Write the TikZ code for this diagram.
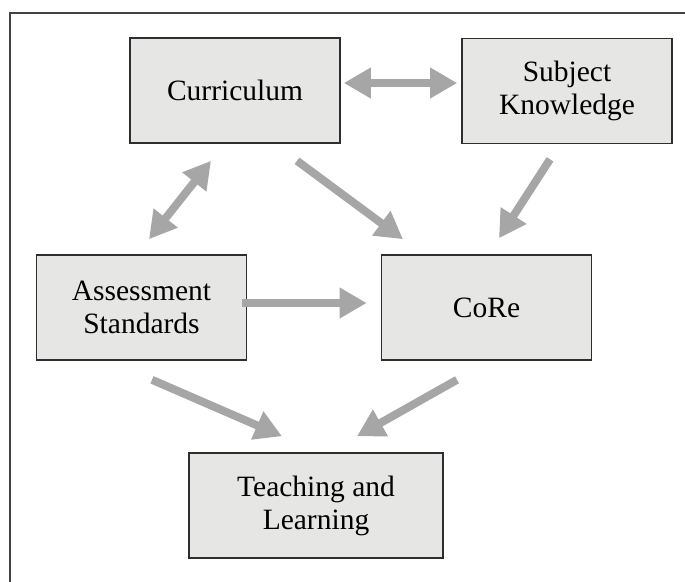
\documentclass[tikz,border=0pt]{standalone}
\usepackage{fontspec}
\setmainfont{Liberation Serif}
\usetikzlibrary{arrows.meta}

\definecolor{boxfill}{HTML}{E6E7E5}
\definecolor{boxline}{HTML}{2E2E2E}
\definecolor{arrowgray}{HTML}{A6A6A6}

\tikzset{
    topic/.style={draw=boxline, line width=1.6pt, fill=boxfill, inner sep=0pt,
        minimum width=210pt, minimum height=105pt, align=center,
        font=\fontsize{29.5}{33}\selectfont},
    flow/.style={draw=arrowgray, line width=8pt,
        -{Triangle[length=27pt,width=29pt]}},
    twoway/.style={flow, {Triangle[length=27pt,width=29pt]}-{Triangle[length=27pt,width=29pt]}}
}

\begin{document}
\begin{tikzpicture}[x=1pt, y=1pt]
    \useasboundingbox (0,0) rectangle (685,-581);
    % Draw frame
    \draw[line width=1.8pt, draw=boxline!90] (10,-13) rectangle (720,-620);

    % Draw boxes
    \node[topic] (curr) at (235,-90.5) {Curriculum};
    \node[topic] (subj) at (567,-91) {Subject\\Knowledge};
    \node[topic] (assess) at (141.5,-307.5) {Assessment\\Standards};
    \node[topic] (core) at (486.5,-307.5) {CoRe};
    \node[topic, minimum width=254pt] (teach) at (316,-505.5) {Teaching and\\Learning};

    % Draw arrows
    \draw[twoway] ([shift={(3,7.5)}]curr.east) -- ([shift={(-4,8)}]subj.west);
    \draw[twoway] ([shift={(-24,-17)}]curr.south) -- ([shift={(7.5,15)}]assess.north);
    \draw[flow] ([shift={(62,-17)}]curr.south) -- ([shift={(-83.5,15)}]core.north);
    \draw[flow] ([shift={(-17,-15)}]subj.south) -- ([shift={(12.5,16)}]core.north);
    \draw[flow] ([shift={(-5,4.5)}]assess.east) -- ([shift={(-14,4.5)}]core.west);
    \draw[flow] ([shift={(10.5,-19)}]assess.south) -- ([shift={(-34,16)}]teach.north);
    \draw[flow] ([shift={(-29.5,-19)}]core.south) -- ([shift={(41,16)}]teach.north);
\end{tikzpicture}
\end{document}
